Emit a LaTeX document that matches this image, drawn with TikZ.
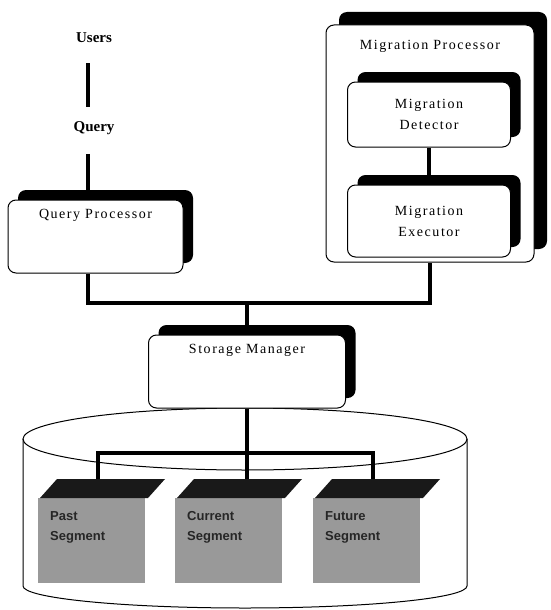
\documentclass[tikz,border=0pt]{standalone}
\usepackage{fontspec}
\setmainfont{Liberation Serif}
\newfontfamily\spacedfont[LetterSpace=11]{Liberation Serif}
\newfontfamily\segfont{Liberation Sans}
\usetikzlibrary{positioning,shadows}
\tikzset{
  link/.style={line width=4.5pt},
  proc/.style={draw, line width=1pt, fill=white, rounded corners=8pt, inner sep=0pt,
    align=center, font=\spacedfont\fontsize{14}{21}\selectfont,
    drop shadow={shadow xshift=#1, shadow yshift=#1, fill=black, opacity=1}},
  proc/.default=10pt,
  proctext/.style={inner sep=0pt, font=\spacedfont\fontsize{14}{17}\selectfont},
  caption/.style={inner sep=0pt, font=\bfseries\fontsize{15}{18}\selectfont},
  segface/.style={fill=black!40},
  segtop/.style={fill=black!90},
  segtext/.style={inner sep=0pt, align=left, text=black!85,
    font=\segfont\bfseries\fontsize{13}{20}\selectfont},
}
\begin{document}
\begin{tikzpicture}[x=1pt,y=-1pt]
\useasboundingbox (0,0) rectangle (550,610);
% the store
\draw[line width=1pt, fill=white] (23,439) -- (23,586)
  arc[start angle=180, end angle=0, x radius=222, y radius=22] -- (467,439);
\draw[line width=1pt] (245,439) ellipse [x radius=222, y radius=31];
\foreach \dx in {0,137,275} {
  \fill[segface] (38+\dx,498) rectangle (145+\dx,583);
  \fill[segtop] (40+\dx,498) -- (148+\dx,498) -- (165+\dx,479) -- (57+\dx,479) -- cycle;
}
\node[segtext, anchor=west] (past) at (50,527) {Past\\Segment};
\node[segtext, anchor=west] (curr) at (187,527) {Current\\Segment};
\node[segtext, anchor=west] (fut) at (325,527) {Future\\Segment};
\coordinate (pastT) at (98,479);
\coordinate (currT) at (247,479);
\coordinate (futT) at (373,479);
\coordinate (fork) at (247,453);

% processors
\node[caption] (users) at (94,38) {Users};
\node[caption] (query) at (94,128) {Query};
\node[proc, minimum width=175pt, minimum height=73pt] (qp) at (95.5,236.5) {};
\node[proctext, below=10pt of qp.north] (qptext) {Query Processor};
\node[proc=13pt, minimum width=208pt, minimum height=237pt] (mp) at (430,143.5) {};
\node[proctext, below=16pt of mp.north] (mptext) {Migration Processor};
\node[proc, minimum width=163pt, minimum height=65pt] (det) at (429,114.5) {Migration\\Detector};
\node[proc, minimum width=163pt, minimum height=72pt] (exe) at (429,221) {Migration\\Executor};
\node[proc, minimum width=197pt, minimum height=73pt] (sm) at (247,371.5) {};
\node[proctext, below=10pt of sm.north] (smtext) {Storage Manager};
\coordinate (spine) at (88,0);
\coordinate (bus) at (247,303);

% connectors
\draw[link, shorten <=20pt, shorten >=14pt] (users.south -| spine) -- (query.north -| spine);
\draw[link, shorten <=19pt] (query.south -| spine) -- (qp.north -| spine);
\draw[link] (qp.south -| spine) |- (bus) -| (mp.south);
\draw[link] (det.south) -- (exe.north);
\draw[link] (bus) -- (sm.north);
\draw[link] (sm.south) -- (currT);
\draw[link] (pastT) |- (fork) -| (futT);
\end{tikzpicture}
\end{document}
